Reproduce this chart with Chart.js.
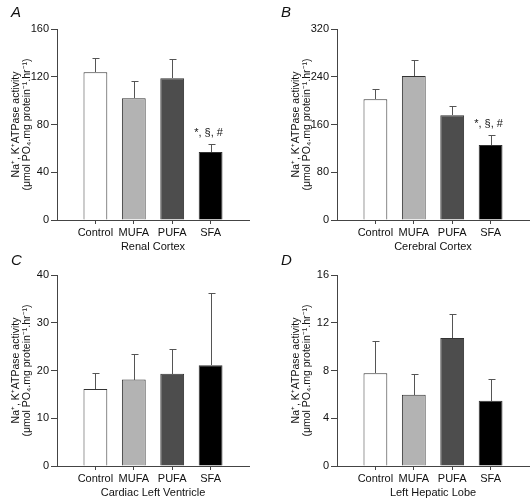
<!DOCTYPE html>
<html>
<head>
<meta charset="utf-8">
<script src="https://cdn.jsdelivr.net/npm/chart.js@4.4.0/dist/chart.umd.min.js"></script>
<style>
    body { margin: 0; background: #fff; }
    #wrap { position: relative; width: 531px; height: 500px; font-family: 'Liberation Sans', Arial, sans-serif; }
    .panel { position: absolute; width: 251px; height: 256px; }
    .letter { position: absolute; font-style: italic; font-size: 15px; line-height: 15px; color: #111; }
</style>
</head>
<body>
<div id="wrap">
    <div class="panel" style="left:0;top:0"><canvas id="chartA" width="251" height="256"></canvas></div>
    <div class="panel" style="left:280px;top:0"><canvas id="chartB" width="251" height="256"></canvas></div>
    <div class="panel" style="left:0;top:246px"><canvas id="chartC" width="251" height="256"></canvas></div>
    <div class="panel" style="left:280px;top:246px"><canvas id="chartD" width="251" height="256"></canvas></div>
    <div class="letter" style="left:11px;top:4px">A</div>
    <div class="letter" style="left:281px;top:4px">B</div>
    <div class="letter" style="left:11px;top:252px">C</div>
    <div class="letter" style="left:281px;top:252px">D</div>
</div>
<script>
const groups = ['Control', 'MUFA', 'PUFA', 'SFA']
const barColors = ['#ffffff', '#b3b3b3', '#4d4d4d', '#000000']

const renalMeans = [123.8, 102.0, 118.8, 56.9]
const renalErrors = [11.9, 14.3, 15.9, 6.7]
const cerebralMeans = [202.4, 241.4, 175.6, 125.5]
const cerebralErrors = [16.7, 26.7, 15.1, 17.2]
const cardiacMeans = [16.1, 18.1, 19.3, 21.1]
const cardiacErrors = [3.4, 5.4, 5.1, 15.2]
const hepaticMeans = [7.78, 5.97, 10.72, 5.47]
const hepaticErrors = [2.69, 1.75, 2.0, 1.8]

const sigMarks = ['', '', '', '*, §, #']
const noMarks = ['', '', '', '']

const yTitle = ['Na\u207A, K\u207AATPase activity', '(\u03BCmol PO\u2084.mg protein\u207B\u00B9.hr\u207B\u00B9)']

Chart.defaults.font.family = "'Liberation Sans', Arial, sans-serif"
Chart.defaults.font.size = 11
Chart.defaults.color = '#111'

// draws the upward error bar and the significance text above each bar
const errorBars = {
    id: 'errorBars',
    afterDatasetsDraw(chart, args, opts) {
        const { ctx } = chart
        const y = chart.scales.y
        const values = chart.data.datasets[0].data
        const meta = chart.getDatasetMeta(0)
        ctx.save()
        ctx.strokeStyle = '#555'
        ctx.lineWidth = 1
        meta.data.forEach((bar, i) => {
            if (values[i] == null) return
            const x = Math.round(bar.x) + 0.5
            const base = Math.round(bar.y)
            const top = Math.round(y.getPixelForValue(values[i] + opts.errors[i])) + 0.5
            ctx.beginPath()
            ctx.moveTo(x, base)
            ctx.lineTo(x, top)
            ctx.moveTo(x - 3, top)
            ctx.lineTo(x + 4, top)
            ctx.stroke()
            if (opts.marks[i]) {
                ctx.fillStyle = '#111'
                ctx.font = "11px 'Liberation Sans', Arial, sans-serif"
                ctx.textAlign = 'center'
                ctx.textBaseline = 'middle'
                ctx.fillText(opts.marks[i], bar.x - 2, top - 11.5)
            }
        })
        ctx.restore()
    }
}

function makeChart(id, means, errors, yMax, yStep, tissue, marks) {
    return new Chart(document.getElementById(id), {
        type: 'bar',
        data: {
            labels: ['', ...groups, ''],
            datasets: [
                {
                    data: [null, ...means, null],
                    backgroundColor: ['transparent', ...barColors, 'transparent'],
                    borderColor: '#333',
                    borderWidth: 1,
                    barPercentage: 0.62,
                    categoryPercentage: 1
                }
            ]
        },
        options: {
            responsive: false,
            animation: false,
            layout: { padding: { top: 29, right: 1, left: 0, bottom: 0 } },
            plugins: {
                legend: { display: false },
                tooltip: { enabled: false },
                errorBars: { errors: [null, ...errors, null], marks: ['', ...marks, ''] }
            },
            scales: {
                x: {
                    offset: false,
                    grid: {
                        offset: false,
                        drawOnChartArea: false,
                        tickLength: 4,
                        color: (c) => (c.index === 0 || c.index === 5 ? 'rgba(0,0,0,0)' : '#444')
                    },
                    border: { color: '#444' },
                    ticks: { padding: 2, autoSkip: false, maxRotation: 0 },
                    title: { display: true, text: tissue, padding: { top: 0, bottom: 2 } },
                    afterFit: (s) => {
                        s.height = 36
                    }
                },
                y: {
                    min: 0,
                    max: yMax,
                    grid: { drawOnChartArea: false, tickLength: 6, color: '#444' },
                    border: { color: '#444' },
                    ticks: { stepSize: yStep, padding: 2 },
                    title: {
                        display: true,
                        text: yTitle,
                        font: { size: 10.5, lineHeight: 1.1 },
                        padding: { top: 10, bottom: 0 }
                    },
                    afterFit: (s) => {
                        s.width = 57
                    }
                }
            }
        },
        plugins: [errorBars]
    })
}

makeChart('chartA', renalMeans, renalErrors, 160, 40, 'Renal Cortex', sigMarks)
makeChart('chartB', cerebralMeans, cerebralErrors, 320, 80, 'Cerebral Cortex', sigMarks)
makeChart('chartC', cardiacMeans, cardiacErrors, 40, 10, 'Cardiac Left Ventricle', noMarks)
makeChart('chartD', hepaticMeans, hepaticErrors, 16, 4, 'Left Hepatic Lobe', noMarks)
</script>
</body>
</html>
